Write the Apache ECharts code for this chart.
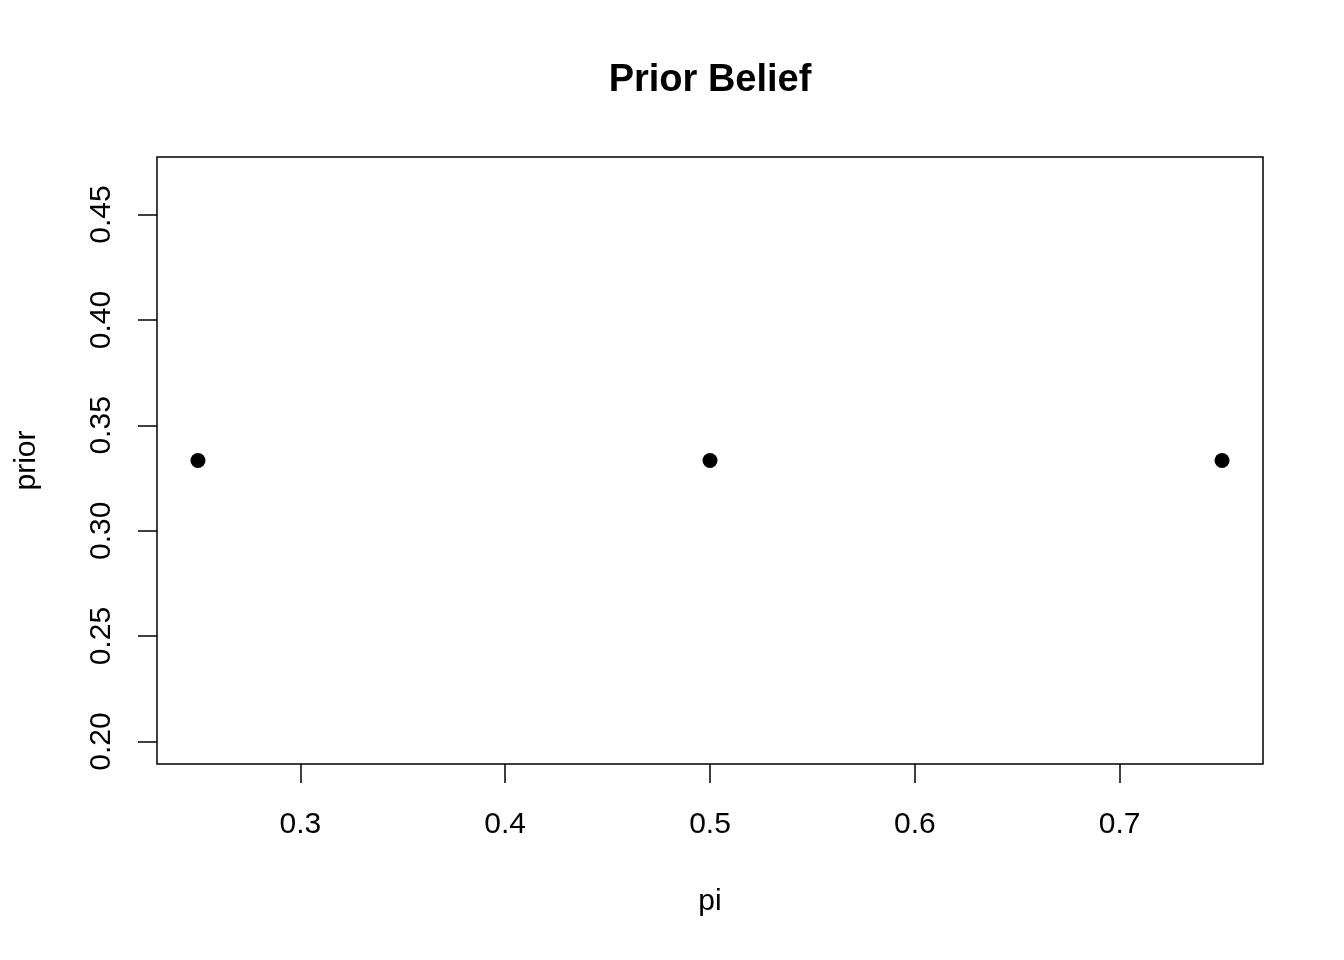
<!DOCTYPE html>
<html>
<head>
<meta charset="utf-8">
<script src="https://cdn.jsdelivr.net/npm/echarts@6/dist/echarts.min.js"></script>
<style>html,body{margin:0;padding:0;background:#fff}#c{width:1344px;height:960px}</style>
</head>
<body>
<div id="c"></div>
<script>
var chartTitle = 'Prior Belief';
var xName = 'pi';
var yName = 'prior';
var piValues = [0.25, 0.5, 0.75];
var priorValues = [0.3333, 0.3333, 0.3333];
var xTicks = [0.3, 0.4, 0.5, 0.6, 0.7];
var yTicks = [0.20, 0.25, 0.30, 0.35, 0.40, 0.45];
var xRange = [0.23, 0.77];
var yRange = [0.18933, 0.47733];

var font = 'Liberation Sans, Arial, Helvetica, sans-serif';
var chart = echarts.init(document.getElementById('c'));
chart.setOption({
  animation: false,
  backgroundColor: '#fff',
  graphic: [{
    type: 'text', x: 710, y: 81,
    style: { text: chartTitle, font: 'bold 38px ' + font, fill: '#000', textAlign: 'center', textVerticalAlign: 'middle' }
  }],
  grid: { left: 157, right: 81, top: 157, bottom: 196, show: true, borderColor: '#000', borderWidth: 1.5, containLabel: false },
  xAxis: {
    type: 'value', min: xRange[0], max: xRange[1],
    name: xName, nameLocation: 'middle', nameGap: 123,
    nameTextStyle: { fontFamily: font, fontSize: 30, color: '#000', verticalAlign: 'top' },
    axisLine: { show: false },
    splitLine: { show: false },
    axisTick: { show: true, inside: false, length: 19, customValues: xTicks, lineStyle: { color: '#000', width: 1.5 } },
    axisLabel: { customValues: xTicks, margin: 46, fontFamily: font, fontSize: 30, color: '#000',
      formatter: function (v) { return v.toFixed(1); } }
  },
  yAxis: {
    type: 'value', min: yRange[0], max: yRange[1],
    name: yName, nameLocation: 'middle', nameGap: 115, nameRotate: 90,
    nameTextStyle: { fontFamily: font, fontSize: 30, color: '#000' },
    axisLine: { show: false },
    splitLine: { show: false },
    axisTick: { show: true, inside: false, length: 19, customValues: yTicks, lineStyle: { color: '#000', width: 1.5 } },
    axisLabel: { customValues: yTicks, rotate: 90, margin: 40, fontFamily: font, fontSize: 30, color: '#000',
      formatter: function (v) { return v.toFixed(2); } }
  },
  series: [{
    type: 'scatter',
    data: piValues.map(function (p, i) { return [p, priorValues[i]]; }),
    symbol: 'circle', symbolSize: 15,
    itemStyle: { color: '#000', opacity: 1 }
  }]
});
</script>
</body>
</html>
